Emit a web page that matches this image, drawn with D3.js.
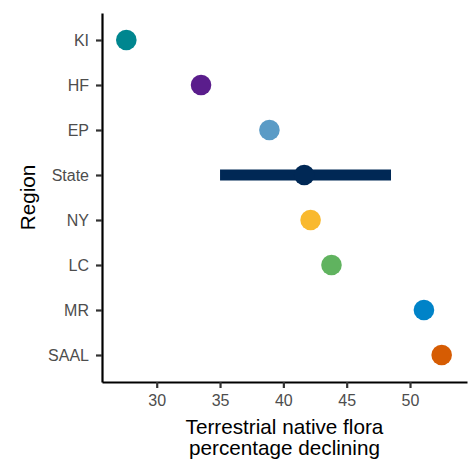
<!DOCTYPE html>
<html>
<head>
<meta charset="utf-8">
<script src="https://cdn.jsdelivr.net/npm/d3@7"></script>
<style>
  body { margin: 0; background: #fff; }
  svg { display: block; font-family: "Liberation Sans", Arial, sans-serif; }
  .axis .domain { stroke: #000; stroke-width: 2.2; }
  .axis .tick line { stroke: #333; stroke-width: 2.2; }
  .axis .tick text { fill: #4d4d4d; font-size: 16px; }
</style>
</head>
<body>
<div id="chart"></div>
<script>
// Regions, top to bottom
var regions = ['KI', 'HF', 'EP', 'State', 'NY', 'LC', 'MR', 'SAAL'];
var declining = [27.6, 33.5, 38.9, 41.65, 42.15, 43.8, 51.1, 52.5];
var colors = ['#00868f', '#5a1d8c', '#5a9bc6', '#002855', '#f9b92e', '#60b35f', '#0083c8', '#d65c03'];
// State-wide interval
var stateLow = 35.0;
var stateHigh = 48.5;
var xTicks = [30, 35, 40, 45, 50];

var width = 474, height = 459;
var padding = { top: 13, left: 102, bottom: 77, right: 7 };

var svg = d3.select('#chart').append('svg')
  .attr('width', width)
  .attr('height', height);

var x = d3.scaleLinear()
  .domain([25.68, 54.5])
  .range([padding.left, width - padding.right]);

var y = d3.scalePoint()
  .domain(regions)
  .range([padding.top, height - padding.bottom])
  .padding(0.6);

var data = regions.map(function(r, i) {
  return { region: r, value: declining[i], color: colors[i] };
});

// State interval bar
svg.append('line')
  .attr('x1', x(stateLow))
  .attr('x2', x(stateHigh))
  .attr('y1', y('State'))
  .attr('y2', y('State'))
  .attr('stroke', colors[regions.indexOf('State')])
  .attr('stroke-width', 11);

svg.selectAll('circle.point')
  .data(data)
  .enter()
  .append('circle')
  .attr('class', 'point')
  .attr('cx', function(d) { return x(d.value); })
  .attr('cy', function(d) { return y(d.region); })
  .attr('r', 10.3)
  .attr('fill', function(d) { return d.color; });

var xAxis = d3.axisBottom(x).tickValues(xTicks).tickSize(6).tickPadding(7).tickSizeOuter(0);
var yAxis = d3.axisLeft(y).tickSize(6).tickPadding(7).tickSizeOuter(0);

svg.append('g')
  .attr('class', 'x axis')
  .attr('transform', 'translate(0,' + (height - padding.bottom) + ')')
  .call(xAxis);

svg.append('g')
  .attr('class', 'y axis')
  .attr('transform', 'translate(' + padding.left + ',0)')
  .call(yAxis);

// Axis titles
var xt = svg.append('text')
  .attr('text-anchor', 'middle')
  .attr('font-size', 20.7)
  .attr('fill', '#000');
xt.append('tspan').attr('x', 284.5).attr('y', 434).text('Terrestrial native flora');
xt.append('tspan').attr('x', 284.5).attr('y', 454.5).text('percentage declining');

svg.append('text')
  .attr('transform', 'translate(35,' + ((padding.top + height - padding.bottom) / 2) + ') rotate(-90)')
  .attr('text-anchor', 'middle')
  .attr('font-size', 20.7)
  .attr('fill', '#000')
  .text('Region');
</script>
</body>
</html>
